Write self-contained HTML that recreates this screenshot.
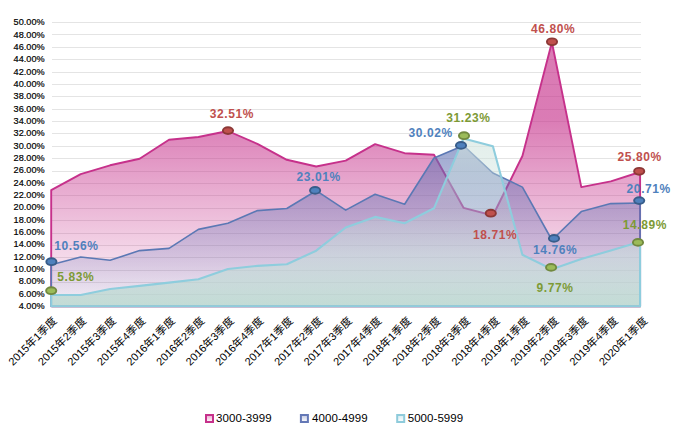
<!DOCTYPE html>
<html><head><meta charset="utf-8"><title>chart</title>
<style>
html,body{margin:0;padding:0;background:#fff;}
svg{display:block;}
text{font-family:"Liberation Sans","Noto Sans CJK SC",sans-serif;}
.yl text{font-size:9.5px;fill:#000;stroke:#000;stroke-width:0.2px;}
.xl text{font-size:10.9px;fill:#000;}
.dl text{font-size:12px;font-weight:bold;letter-spacing:0.6px;}
.lg text{font-size:11.5px;fill:#000;letter-spacing:0.06px;}
</style></head><body>
<svg width="674" height="438" viewBox="0 0 674 438">
<defs>
<linearGradient id="gp" gradientUnits="userSpaceOnUse" x1="0" y1="42" x2="0" y2="306">
<stop offset="0" stop-color="#c6318b" stop-opacity="0.64"/>
<stop offset="0.29" stop-color="#c6318b" stop-opacity="0.64"/>
<stop offset="1" stop-color="#c6318b" stop-opacity="0.02"/>
</linearGradient>
<linearGradient id="gb" gradientUnits="userSpaceOnUse" x1="0" y1="145" x2="0" y2="306">
<stop offset="0" stop-color="#5f70b2" stop-opacity="0.62"/>
<stop offset="1" stop-color="#767ebc" stop-opacity="0.08"/>
</linearGradient>
<linearGradient id="gl" gradientUnits="userSpaceOnUse" x1="0" y1="138" x2="0" y2="306">
<stop offset="0" stop-color="#d8e8e2" stop-opacity="0.68"/>
<stop offset="0.2" stop-color="#c8e0da" stop-opacity="0.42"/>
<stop offset="0.4" stop-color="#bcd8d6" stop-opacity="0.24"/>
<stop offset="0.7" stop-color="#c6dfdc" stop-opacity="0.55"/>
<stop offset="1" stop-color="#b3d5ca" stop-opacity="0.76"/>
</linearGradient>
<linearGradient id="lp" x1="0" y1="0" x2="0" y2="1"><stop offset="0" stop-color="#e9a6cd"/><stop offset="1" stop-color="#fff"/></linearGradient>
<linearGradient id="lb" x1="0" y1="0" x2="0" y2="1"><stop offset="0" stop-color="#c3c9e2"/><stop offset="1" stop-color="#fff"/></linearGradient>
<linearGradient id="ll" x1="0" y1="0" x2="0" y2="1"><stop offset="0" stop-color="#d5ebf2"/><stop offset="1" stop-color="#fff"/></linearGradient>
</defs>
<rect width="674" height="438" fill="#fff"/>
<g><rect x="52" y="22" width="589" height="1" fill="#e4e4e4"/><rect x="52" y="34" width="589" height="1" fill="#e4e4e4"/><rect x="52" y="47" width="589" height="1" fill="#e4e4e4"/><rect x="52" y="59" width="589" height="1" fill="#e4e4e4"/><rect x="52" y="72" width="589" height="1" fill="#e4e4e4"/><rect x="52" y="84" width="589" height="1" fill="#e4e4e4"/><rect x="52" y="96" width="589" height="1" fill="#e4e4e4"/><rect x="52" y="109" width="589" height="1" fill="#e4e4e4"/><rect x="52" y="121" width="589" height="1" fill="#e4e4e4"/><rect x="52" y="133" width="589" height="1" fill="#e4e4e4"/><rect x="52" y="146" width="589" height="1" fill="#e4e4e4"/><rect x="52" y="158" width="589" height="1" fill="#e4e4e4"/><rect x="52" y="171" width="589" height="1" fill="#e4e4e4"/><rect x="52" y="183" width="589" height="1" fill="#e4e4e4"/><rect x="52" y="195" width="589" height="1" fill="#e4e4e4"/><rect x="52" y="208" width="589" height="1" fill="#e4e4e4"/><rect x="52" y="220" width="589" height="1" fill="#e4e4e4"/><rect x="52" y="233" width="589" height="1" fill="#e4e4e4"/><rect x="52" y="245" width="589" height="1" fill="#e4e4e4"/><rect x="52" y="257" width="589" height="1" fill="#e4e4e4"/><rect x="52" y="270" width="589" height="1" fill="#e4e4e4"/><rect x="52" y="282" width="589" height="1" fill="#e4e4e4"/><rect x="52" y="294" width="589" height="1" fill="#e4e4e4"/><rect x="52" y="307" width="589" height="1" fill="#e4e4e4"/></g>
<g class="yl"><text transform="translate(44.6,25.2) scale(0.962,1)" text-anchor="end">50.00%</text><text transform="translate(44.6,37.5) scale(0.962,1)" text-anchor="end">48.00%</text><text transform="translate(44.6,49.9) scale(0.962,1)" text-anchor="end">46.00%</text><text transform="translate(44.6,62.2) scale(0.962,1)" text-anchor="end">44.00%</text><text transform="translate(44.6,74.6) scale(0.962,1)" text-anchor="end">42.00%</text><text transform="translate(44.6,86.9) scale(0.962,1)" text-anchor="end">40.00%</text><text transform="translate(44.6,99.2) scale(0.962,1)" text-anchor="end">38.00%</text><text transform="translate(44.6,111.6) scale(0.962,1)" text-anchor="end">36.00%</text><text transform="translate(44.6,123.9) scale(0.962,1)" text-anchor="end">34.00%</text><text transform="translate(44.6,136.3) scale(0.962,1)" text-anchor="end">32.00%</text><text transform="translate(44.6,148.6) scale(0.962,1)" text-anchor="end">30.00%</text><text transform="translate(44.6,160.9) scale(0.962,1)" text-anchor="end">28.00%</text><text transform="translate(44.6,173.3) scale(0.962,1)" text-anchor="end">26.00%</text><text transform="translate(44.6,185.6) scale(0.962,1)" text-anchor="end">24.00%</text><text transform="translate(44.6,198.0) scale(0.962,1)" text-anchor="end">22.00%</text><text transform="translate(44.6,210.3) scale(0.962,1)" text-anchor="end">20.00%</text><text transform="translate(44.6,222.6) scale(0.962,1)" text-anchor="end">18.00%</text><text transform="translate(44.6,235.0) scale(0.962,1)" text-anchor="end">16.00%</text><text transform="translate(44.6,247.3) scale(0.962,1)" text-anchor="end">14.00%</text><text transform="translate(44.6,259.7) scale(0.962,1)" text-anchor="end">12.00%</text><text transform="translate(44.6,272.0) scale(0.962,1)" text-anchor="end">10.00%</text><text transform="translate(44.6,284.3) scale(0.962,1)" text-anchor="end">8.00%</text><text transform="translate(44.6,296.7) scale(0.962,1)" text-anchor="end">6.00%</text><text transform="translate(44.6,309.0) scale(0.962,1)" text-anchor="end">4.00%</text></g>
<path d="M51.2,306.2 L51.2,190.2 L80.7,174.1 L110.1,165.3 L139.6,158.7 L169.0,139.7 L198.4,137.0 L227.9,131.0 L257.4,143.9 L286.8,159.8 L316.2,166.5 L345.7,160.6 L375.1,144.2 L404.6,153.2 L434.0,154.7 L463.5,207.8 L492.9,215.5 L522.4,156.0 L551.9,42.3 L581.3,187.1 L610.8,181.4 L640.1,172.0 L640.1,306.2 Z" fill="url(#gp)" stroke="#c6318b" stroke-width="1.9" stroke-linejoin="round"/>
<path d="M51.2,306.2 L51.2,264.8 L80.7,257.0 L110.1,260.3 L139.6,250.6 L169.0,248.4 L198.4,229.4 L227.9,223.2 L257.4,210.6 L286.8,208.5 L316.2,190.7 L345.7,210.1 L375.1,194.3 L404.6,204.3 L434.0,158.0 L463.5,145.5 L492.9,173.0 L522.4,187.1 L551.9,240.0 L581.3,211.6 L610.8,203.6 L640.1,203.0 L640.1,306.2 Z" fill="url(#gb)" stroke="#5b78b4" stroke-width="1.6" stroke-linejoin="round"/>
<path d="M51.2,306.2 L51.2,295.0 L80.7,295.0 L110.1,289.0 L139.6,285.9 L169.0,282.6 L198.4,279.2 L227.9,269.0 L257.4,265.9 L286.8,264.3 L316.2,250.7 L345.7,227.5 L375.1,216.9 L404.6,223.3 L434.0,208.3 L463.5,138.4 L492.9,146.3 L522.4,254.8 L551.9,269.2 L581.3,259.1 L610.8,250.4 L640.1,241.8 L640.1,306.2 Z" fill="url(#gl)" stroke="#8ecddd" stroke-width="2.1" stroke-linejoin="round"/>
<g><ellipse cx="228" cy="130.6" rx="5.1" ry="3.4" fill="#c0504d" stroke="#8c3836" stroke-width="1.9"/><ellipse cx="552" cy="41.8" rx="5.1" ry="3.4" fill="#c0504d" stroke="#8c3836" stroke-width="1.9"/><ellipse cx="490.8" cy="213.2" rx="5.1" ry="3.4" fill="#c0504d" stroke="#8c3836" stroke-width="1.9"/><ellipse cx="639.2" cy="171.3" rx="5.1" ry="3.4" fill="#c0504d" stroke="#8c3836" stroke-width="1.9"/><ellipse cx="51.4" cy="261.7" rx="5.1" ry="3.4" fill="#4f81bd" stroke="#385d8a" stroke-width="1.9"/><ellipse cx="315.1" cy="190.4" rx="5.1" ry="3.4" fill="#4f81bd" stroke="#385d8a" stroke-width="1.9"/><ellipse cx="461" cy="145.4" rx="5.1" ry="3.4" fill="#4f81bd" stroke="#385d8a" stroke-width="1.9"/><ellipse cx="554" cy="238.4" rx="5.1" ry="3.4" fill="#4f81bd" stroke="#385d8a" stroke-width="1.9"/><ellipse cx="639.2" cy="200.6" rx="5.1" ry="3.4" fill="#4f81bd" stroke="#385d8a" stroke-width="1.9"/><ellipse cx="51.2" cy="290.7" rx="5.1" ry="3.4" fill="#9bbb59" stroke="#71893f" stroke-width="1.9"/><ellipse cx="464" cy="135.7" rx="5.1" ry="3.4" fill="#9bbb59" stroke="#71893f" stroke-width="1.9"/><ellipse cx="551.1" cy="267.4" rx="5.1" ry="3.4" fill="#9bbb59" stroke="#71893f" stroke-width="1.9"/><ellipse cx="638" cy="242.4" rx="5.1" ry="3.4" fill="#9bbb59" stroke="#71893f" stroke-width="1.9"/></g>
<g class="dl"><text x="209.7" y="118.2" fill="#c0504d">32.51%</text><text x="531" y="33.2" fill="#c0504d">46.80%</text><text x="473" y="239.2" fill="#c0504d">18.71%</text><text x="617.6" y="161.3" fill="#c0504d">25.80%</text><text x="54.3" y="250" fill="#4f81bd">10.56%</text><text x="296.5" y="181.3" fill="#4f81bd">23.01%</text><text x="408.5" y="136.9" fill="#4f81bd">30.02%</text><text x="533.1" y="254.0" fill="#4f81bd">14.76%</text><text x="626.6" y="192.7" fill="#4f81bd">20.71%</text><text x="57.3" y="281.3" fill="#7d9a35">5.83%</text><text x="446.3" y="121.5" fill="#7d9a35">31.23%</text><text x="536.5" y="292.0" fill="#7d9a35">9.77%</text><text x="622.8" y="228.9" fill="#7d9a35">14.89%</text></g>
<g class="xl"><text transform="translate(57.5,321.6) rotate(-45)" text-anchor="end">2015年1季度</text><text transform="translate(87.0,321.6) rotate(-45)" text-anchor="end">2015年2季度</text><text transform="translate(116.6,321.6) rotate(-45)" text-anchor="end">2015年3季度</text><text transform="translate(146.1,321.6) rotate(-45)" text-anchor="end">2015年4季度</text><text transform="translate(175.6,321.6) rotate(-45)" text-anchor="end">2016年1季度</text><text transform="translate(205.2,321.6) rotate(-45)" text-anchor="end">2016年2季度</text><text transform="translate(234.7,321.6) rotate(-45)" text-anchor="end">2016年3季度</text><text transform="translate(264.2,321.6) rotate(-45)" text-anchor="end">2016年4季度</text><text transform="translate(293.7,321.6) rotate(-45)" text-anchor="end">2017年1季度</text><text transform="translate(323.3,321.6) rotate(-45)" text-anchor="end">2017年2季度</text><text transform="translate(352.8,321.6) rotate(-45)" text-anchor="end">2017年3季度</text><text transform="translate(382.3,321.6) rotate(-45)" text-anchor="end">2017年4季度</text><text transform="translate(411.9,321.6) rotate(-45)" text-anchor="end">2018年1季度</text><text transform="translate(441.4,321.6) rotate(-45)" text-anchor="end">2018年2季度</text><text transform="translate(470.9,321.6) rotate(-45)" text-anchor="end">2018年3季度</text><text transform="translate(500.5,321.6) rotate(-45)" text-anchor="end">2018年4季度</text><text transform="translate(530.0,321.6) rotate(-45)" text-anchor="end">2019年1季度</text><text transform="translate(559.5,321.6) rotate(-45)" text-anchor="end">2019年2季度</text><text transform="translate(589.0,321.6) rotate(-45)" text-anchor="end">2019年3季度</text><text transform="translate(618.6,321.6) rotate(-45)" text-anchor="end">2019年4季度</text><text transform="translate(648.1,321.6) rotate(-45)" text-anchor="end">2020年1季度</text></g>
<g class="lg">
<rect x="206" y="415" width="7" height="7" fill="url(#lp)" stroke="#c6318b" stroke-width="2"/><text x="216.1" y="422.3">3000-3999</text>
<rect x="300.9" y="415" width="7" height="7" fill="url(#lb)" stroke="#6478b6" stroke-width="2"/><text x="312.1" y="422.3">4000-4999</text>
<rect x="397.2" y="415" width="7" height="7" fill="url(#ll)" stroke="#8ecbdb" stroke-width="2"/><text x="407.7" y="422.3">5000-5999</text>
</g>
</svg>
</body></html>
